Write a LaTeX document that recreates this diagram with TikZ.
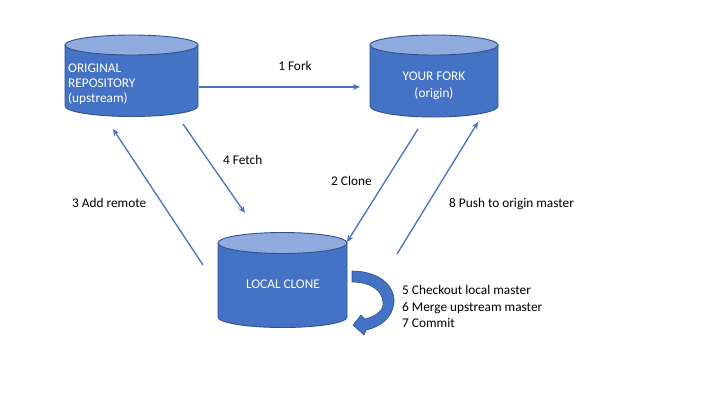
\documentclass[tikz,border=0pt]{standalone}
\usepackage{fontspec}
\setmainfont{Carlito}
\usetikzlibrary{arrows.meta}
\definecolor{cylbody}{HTML}{4472C4}
\definecolor{cyltop}{HTML}{8FAADC}
\definecolor{cylline}{HTML}{2F528F}
\definecolor{arrowblue}{HTML}{4472C4}
\tikzset{
  cylfill/.style={fill=cylbody, draw=cylline, line width=0.9pt},
  cyltopfill/.style={fill=cyltop, draw=cylline, line width=0.9pt},
  intext/.style={text=white, font=\fontsize{13.3}{16.5}\selectfont, inner sep=0pt},
  lbl/.style={text=black, font=\fontsize{13.3}{16.5}\selectfont, inner sep=0pt, anchor=base west},
  conn/.style={draw=arrowblue, line width=1.3pt, -{Stealth[length=7pt,width=6pt]}}
}
\begin{document}
\begin{tikzpicture}[x=1pt,y=-1pt]
\useasboundingbox (0,0) rectangle (720,405);
\fill[white] (0,0) rectangle (720,405);

% Original repository cylinder
\path[cylfill] (65,45) -- (65,106) arc[start angle=180, end angle=0, x radius=66.5, y radius=10.5] -- (198,45) -- cycle;
\path[cyltopfill] (131.5,45) ellipse[x radius=66.5, y radius=10];
% Your fork cylinder
\path[cylfill] (370,45) -- (370,106) arc[start angle=180, end angle=0, x radius=64, y radius=11] -- (498,45) -- cycle;
\path[cyltopfill] (434,45) ellipse[x radius=64, y radius=10];
% Local clone cylinder
\path[cylfill] (218,243) -- (218,317) arc[start angle=180, end angle=0, x radius=64.5, y radius=10.5] -- (347,243) -- cycle;
\path[cyltopfill] (282.5,243) ellipse[x radius=64.5, y radius=10.5];

% Cylinder texts
\node[intext, anchor=base west] (orig1) at (68,72) {ORIGINAL};
\node[intext, anchor=base west] (orig2) at (68,87) {REPOSITORY};
\node[intext, anchor=base west] (orig3) at (68,102) {(upstream)};
\node[intext, anchor=base] (fork1) at (434,80.5) {YOUR FORK};
\node[intext, anchor=base] (fork2) at (434,97) {(origin)};
\node[intext, anchor=base] (local) at (283,288.5) {LOCAL CLONE};

% Connector end points
\coordinate (forkS) at (199,87);
\coordinate (forkE) at (360,87);
\coordinate (fetchS) at (183,124);
\coordinate (fetchE) at (245,213);
\coordinate (addS) at (203,265);
\coordinate (addE) at (113,129);
\coordinate (cloneS) at (418,129);
\coordinate (cloneE) at (347,242);
\coordinate (pushS) at (397,254);
\coordinate (pushE) at (478,122);

\draw[conn] (forkS) -- (forkE);
\draw[conn] (fetchS) -- (fetchE);
\draw[conn] (addS) -- (addE);
\draw[conn] (cloneS) -- (cloneE);
\draw[conn] (pushS) -- (pushE);

% Curved block arrow
\path[fill=cylbody, draw=cylline, line width=0.6pt]
  (352,271) .. controls (378,271) and (395,285) .. (394,302)
  .. controls (393,317) and (381,327) .. (366,330)
  -- (364,335) -- (353,325) -- (361,315) -- (365,319)
  .. controls (377,316) and (384,310) .. (383,302)
  .. controls (382,290) and (370,282) .. (352,282) -- cycle;

% Labels
\node[lbl, anchor=base] (l1) at (295,70.5) {1 Fork};
\node[lbl] (l4) at (223,164.5) {4 Fetch};
\node[lbl] (l3) at (72,207.5) {3 Add remote};
\node[lbl] (l2) at (331,185.5) {2 Clone};
\node[lbl] (l8) at (449,207.5) {8 Push to origin master};
\node[lbl] (l5) at (402,294.5) {5 Checkout local master};
\node[lbl] (l6) at (402,311) {6 Merge upstream master};
\node[lbl] (l7) at (402,327.5) {7 Commit};
\end{tikzpicture}
\end{document}
